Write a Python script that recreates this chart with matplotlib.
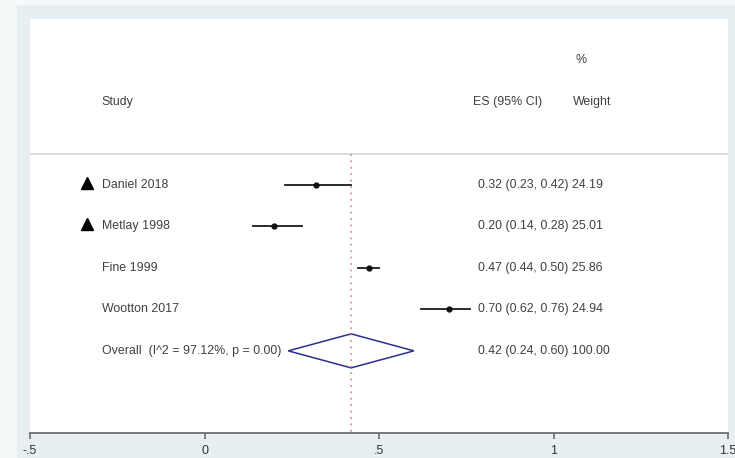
import matplotlib.pyplot as plt
from matplotlib.patches import Polygon, Rectangle

plt.rcParams['font.family'] = ['Liberation Sans', 'DejaVu Sans']

studies = ["Daniel 2018", "Metlay 1998", "Fine 1999", "Wootton 2017"]
es = [0.32, 0.20, 0.47, 0.70]
lo = [0.23, 0.14, 0.44, 0.62]
hi = [0.42, 0.28, 0.50, 0.76]
weights = [24.19, 25.01, 25.86, 24.94]
flagged = [True, True, False, False]

overall_es, overall_lo, overall_hi = 0.42, 0.24, 0.60
overall_label = "Overall  (I^2 = 97.12%, p = 0.00)"

xticks = [-0.5, 0, 0.5, 1, 1.5]
xticklabels = ["-.5", "0", ".5", "1", "1.5"]

txt = '#404040'
fs = 8.9

fig = plt.figure(figsize=(7.35, 4.58), dpi=100, facecolor='#f6f9fa')
fig.add_artist(Rectangle((17 / 735, 0), 1, 1 - 5 / 458, transform=fig.transFigure,
                         color='#e8eff2', zorder=-10))
ax = fig.add_axes([30 / 735, 1 - 433 / 458, 698 / 735, 414 / 458])
ax.set_zorder(1)
ax.set_facecolor('white')
ax.set_xlim(-0.5, 1.5)
ax.set_ylim(9.98, 0)

rows = [4 + i for i in range(len(studies))]
overall_row = rows[-1] + 1

# header
ax.text(-0.295, 2.0, "Study", fontsize=fs, color=txt, va='center')
ax.text(0.769, 2.0, "ES (95% CI)", fontsize=fs, color=txt, va='center')
ax.text(1.056, 2.0, "Weight", fontsize=fs, color=txt, va='center')
ax.text(1.064, 1.0, "%", fontsize=fs, color=txt, va='center')
ax.axhline(3.25, color='#d9d9d9', lw=1.3)

# reference line at overall estimate
ax.plot([overall_es, overall_es], [3.25, 9.98], color='#e07a8e', lw=1.1,
        linestyle=(0, (1.2, 3.0)))

for y, name, e, l, h, w, f in zip(rows, studies, es, lo, hi, weights, flagged):
    ax.plot([l, h], [y, y], color='#1a1a1a', lw=1.3)
    ax.plot(e, y, 'o', color='#111111', ms=3.5)
    ax.text(-0.295, y, name, fontsize=fs, color=txt, va='center')
    ax.text(0.783, y, f"{e:.2f} ({l:.2f}, {h:.2f}) {w:.2f}", fontsize=fs, color=txt, va='center')
    if f:
        ax.plot(-0.337, y - 0.05, '^', color='black', ms=8)

diamond = Polygon([[overall_lo, overall_row], [overall_es, overall_row - 0.41],
                   [overall_hi, overall_row], [overall_es, overall_row + 0.41]],
                  closed=True, fill=False, edgecolor='#2e2e8f', lw=1.1)
ax.add_patch(diamond)
ax.text(-0.295, overall_row, overall_label, fontsize=fs, color=txt, va='center')
ax.text(0.783, overall_row, f"{overall_es:.2f} ({overall_lo:.2f}, {overall_hi:.2f}) 100.00",
        fontsize=fs, color=txt, va='center')

for s in ['top', 'right', 'left']:
    ax.spines[s].set_visible(False)
ax.spines['bottom'].set_color('#6e6e6e')
ax.spines['bottom'].set_linewidth(1.3)
ax.set_yticks([])
ax.set_xticks(xticks)
ax.set_xticklabels(xticklabels)
ax.tick_params(axis='x', length=4, width=1.2, color='#6e6e6e', labelsize=9, labelcolor='#333333', pad=5)

fig.savefig('out.png', dpi=100, facecolor=fig.get_facecolor())
